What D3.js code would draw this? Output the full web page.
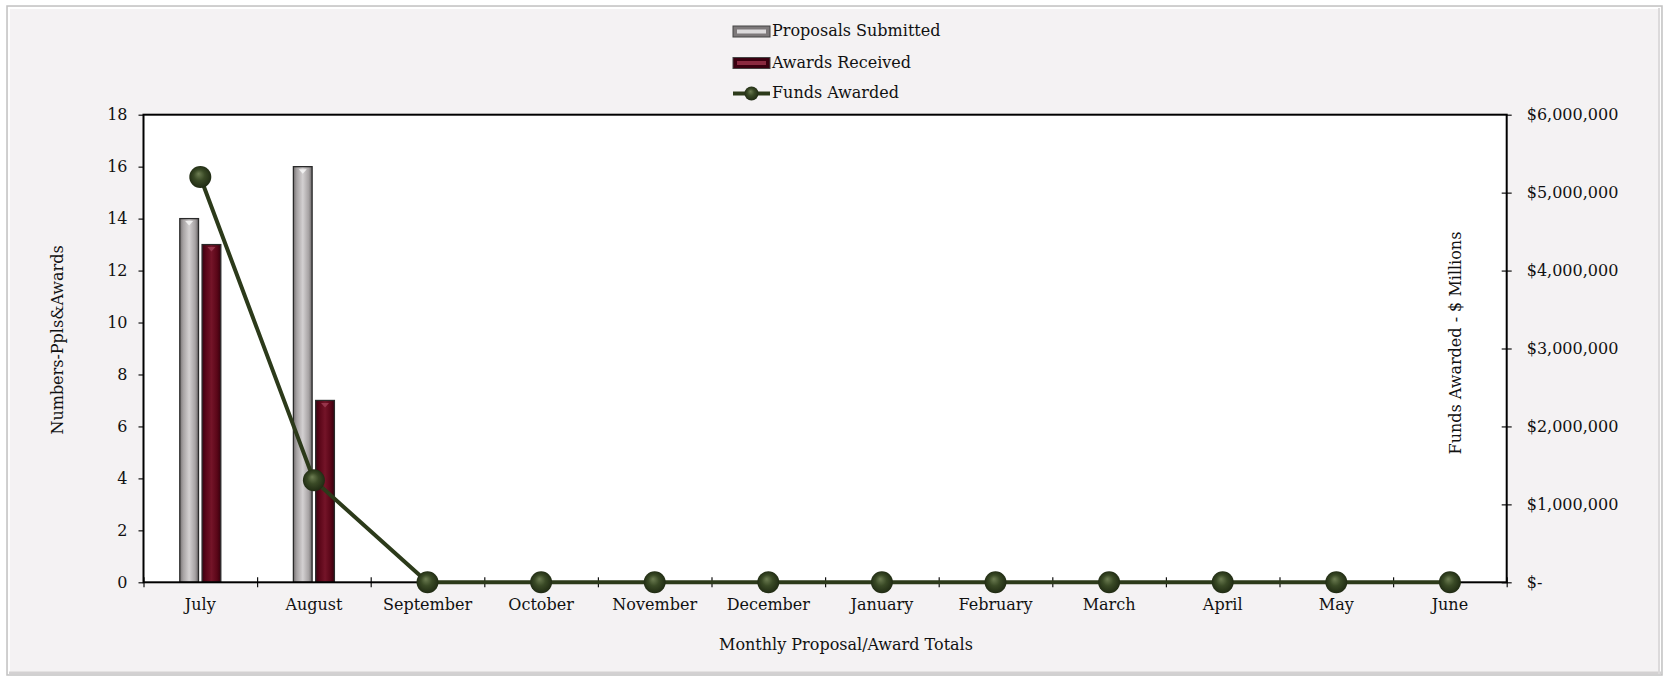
<!DOCTYPE html>
<html>
<head>
<meta charset="utf-8">
<script src="https://cdn.jsdelivr.net/npm/d3@7"></script>
<style>
  html, body { margin: 0; padding: 0; background: #fff; }
  svg text { font-family: 'DejaVu Serif', Georgia, serif; fill: #111; }
</style>
</head>
<body>
<div id="chart"></div>
<script>
// data
const months = ['July', 'August', 'September', 'October', 'November', 'December',
  'January', 'February', 'March', 'April', 'May', 'June']
const proposals = [14, 16, null, null, null, null, null, null, null, null, null, null]
const awards = [13, 7, null, null, null, null, null, null, null, null, null, null]
const funds = [5200000, 1310000, 0, 0, 0, 0, 0, 0, 0, 0, 0, 0]
const leftTicks = [0, 2, 4, 6, 8, 10, 12, 14, 16, 18]
const rightTicks = [0, 1000000, 2000000, 3000000, 4000000, 5000000, 6000000]
const seriesNames = ['Proposals Submitted', 'Awards Received', 'Funds Awarded']

const W = 1665, H = 679
const plot = {left: 143.5, right: 1506.7, top: 114.7, bottom: 582.3}
const fs = 16

const svg = d3.select('#chart').append('svg')
  .attr('width', W).attr('height', H)

const defs = svg.append('defs')

function hGrad(id, stops) {
  const g = defs.append('linearGradient').attr('id', id)
    .attr('x1', 0).attr('x2', 1).attr('y1', 0).attr('y2', 0)
  stops.forEach(s => g.append('stop').attr('offset', s[0]).attr('stop-color', s[1]))
}
hGrad('gGray', [[0, '#777374'], [0.18, '#a6a2a3'], [0.5, '#d3d0d1'], [0.82, '#a6a2a3'], [1, '#6a6667']])
hGrad('gRed', [[0, '#3c0010'], [0.2, '#5a0618'], [0.5, '#741428'], [0.8, '#5a0618'], [1, '#36000d']])

const rg = defs.append('radialGradient').attr('id', 'gBall')
  .attr('cx', 0.5).attr('cy', 0.5).attr('r', 0.55).attr('fx', 0.42).attr('fy', 0.35)
rg.append('stop').attr('offset', 0).attr('stop-color', '#6d7d52')
rg.append('stop').attr('offset', 0.45).attr('stop-color', '#3a4a26')
rg.append('stop').attr('offset', 1).attr('stop-color', '#1c2610')

// chart frame
svg.append('rect').attr('x', 7).attr('y', 6).attr('width', 1655).attr('height', 669)
  .attr('fill', '#f4f2f3').attr('stroke', '#c2c2c2').attr('stroke-width', 1.5)
svg.append('rect').attr('x', 9).attr('y', 8).attr('width', 1651).attr('height', 665)
  .attr('fill', 'none').attr('stroke', '#ffffff').attr('stroke-width', 2)
svg.append('line').attr('x1', 9).attr('x2', 1661).attr('y1', 673).attr('y2', 673)
  .attr('stroke', '#d3d1d2').attr('stroke-width', 3)
svg.append('line').attr('x1', 1659).attr('x2', 1659).attr('y1', 8).attr('y2', 674)
  .attr('stroke', '#dcdadb').attr('stroke-width', 2)

// Scales
const x = d3.scaleBand().domain(months).range([plot.left, plot.right])
const x1 = d3.scaleBand().domain(['p', 'a']).range([-20.5, 20.5]).paddingInner(0.16)
const y = d3.scaleLinear().domain([0, 18]).range([plot.bottom, plot.top])
const y2 = d3.scaleLinear().domain([0, 6000000]).range([plot.bottom, plot.top])
const xTick = d3.scaleLinear().domain([0, months.length]).range([plot.left, plot.right])

// plot area
svg.append('rect')
  .attr('x', plot.left).attr('y', plot.top)
  .attr('width', plot.right - plot.left).attr('height', plot.bottom - plot.top)
  .attr('fill', '#fff')

// Axes
const gl = svg.append('g').attr('transform', `translate(${plot.left},0)`)
  .call(d3.axisLeft(y).tickValues(leftTicks).tickSize(5).tickSizeOuter(0).tickPadding(11))
const gr = svg.append('g').attr('transform', `translate(${plot.right},0)`)
  .call(d3.axisRight(y2).tickValues(rightTicks).tickSizeOuter(0)
    .tickFormat(d => d === 0 ? '$-' : d3.format('$,')(d)))
gr.selectAll('.tick line').attr('x1', -5).attr('x2', 5)
gr.selectAll('.tick text').attr('x', 20)
gr.select('.tick:last-of-type line').attr('x1', 0)

const gt = svg.append('g').attr('transform', `translate(0,${plot.bottom})`)
  .call(d3.axisBottom(xTick).ticks(months.length).tickFormat('').tickSizeOuter(0))
gt.selectAll('.tick line').attr('y1', -5).attr('y2', 5)

const gx = svg.append('g').attr('transform', `translate(0,${plot.bottom})`)
  .call(d3.axisBottom(x).tickSize(0).tickPadding(16))

;[gl, gr, gt, gx].forEach(g => {
  g.select('.domain').remove()
  g.selectAll('.tick line').attr('stroke', '#111').attr('stroke-width', 1.2)
  g.selectAll('text').attr('font-size', fs).attr('fill', '#111')
    .style('font-family', "'DejaVu Serif', Georgia, serif")
})

// bars
const rows = months.map((m, i) => ({m, p: proposals[i], a: awards[i], f: funds[i]}))

function bars(key, fill) {
  const sel = svg.append('g').selectAll('g')
    .data(rows.filter(d => d[key] != null))
    .join('g')
    .attr('transform', d => `translate(${x(d.m) + x.bandwidth() / 2 + x1(key)},0)`)
  sel.append('rect')
    .attr('x', 0).attr('y', d => y(d[key]))
    .attr('width', x1.bandwidth()).attr('height', d => y(0) - y(d[key]))
    .attr('fill', fill).attr('stroke', '#2a2a2a').attr('stroke-width', 1.3)
  const bw = x1.bandwidth()
  sel.append('path')
    .attr('d', d => `M${bw / 2 - 4},${y(d[key]) + 2.5} L${bw / 2 + 4},${y(d[key]) + 2.5} L${bw / 2},${y(d[key]) + 7} Z`)
    .attr('fill', key === 'p' ? '#f4f4f4' : '#9a3a50').attr('opacity', 0.9)
}
bars('p', 'url(#gGray)')
bars('a', 'url(#gRed)')

// plot frame
svg.append('rect')
  .attr('x', plot.left).attr('y', plot.top)
  .attr('width', plot.right - plot.left).attr('height', plot.bottom - plot.top)
  .attr('fill', 'none').attr('stroke', '#000').attr('stroke-width', 2)

// funds line
const cx = d => x(d.m) + x.bandwidth() / 2
svg.append('path')
  .datum(rows)
  .attr('fill', 'none').attr('stroke', '#2c3a1a').attr('stroke-width', 4)
  .attr('d', d3.line().x(cx).y(d => y2(d.f)))
svg.append('g').selectAll('circle').data(rows).join('circle')
  .attr('cx', cx).attr('cy', d => y2(d.f)).attr('r', 11)
  .attr('fill', 'url(#gBall)')

// axis titles
svg.append('text')
  .attr('transform', 'translate(58,340) rotate(-90)')
  .attr('text-anchor', 'middle').attr('dominant-baseline', 'middle')
  .attr('font-size', fs).text('Numbers-Ppls&Awards')
svg.append('text')
  .attr('transform', 'translate(1456,343) rotate(-90)')
  .attr('text-anchor', 'middle').attr('dominant-baseline', 'middle')
  .attr('font-size', fs).text('Funds Awarded - $ Millions')
svg.append('text')
  .attr('x', 846).attr('y', 645)
  .attr('text-anchor', 'middle').attr('dominant-baseline', 'middle')
  .attr('font-size', fs).text('Monthly Proposal/Award Totals')

// legend
const legY = [31.5, 63, 93.5]
const leg = svg.append('g')
seriesNames.forEach((name, i) => {
  const ly = legY[i]
  if (i < 2) {
    leg.append('rect').attr('x', 733).attr('y', ly - 5.5).attr('width', 37).attr('height', 11)
      .attr('fill', i === 0 ? '#7d797a' : '#3a0010').attr('stroke', '#444').attr('stroke-width', 1)
    leg.append('rect').attr('x', 737).attr('y', ly - 2).attr('width', 29).attr('height', 4)
      .attr('fill', i === 0 ? '#dcdadb' : '#8a2a40')
  } else {
    leg.append('line').attr('x1', 733).attr('x2', 770).attr('y1', ly).attr('y2', ly)
      .attr('stroke', '#2c3a1a').attr('stroke-width', 4)
    leg.append('circle').attr('cx', 751.5).attr('cy', ly).attr('r', 7).attr('fill', 'url(#gBall)')
  }
  leg.append('text').attr('x', 772).attr('y', ly)
    .attr('dominant-baseline', 'middle').attr('font-size', fs).text(name)
})
</script>
</body>
</html>
